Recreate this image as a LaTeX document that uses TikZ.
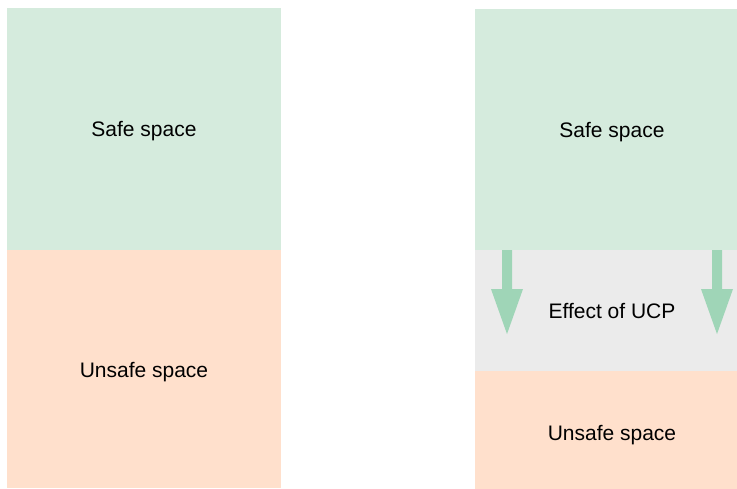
\documentclass[tikz,border=0pt]{standalone}
\usepackage{fontspec}
\setmainfont{Liberation Sans}
\definecolor{safefill}{HTML}{D5EBDD}
\definecolor{unsafefill}{HTML}{FFE0CC}
\definecolor{effectfill}{HTML}{EBEBEB}
\definecolor{arrowfill}{HTML}{9FD5B7}
\begin{document}
\begin{tikzpicture}[x=1pt,y=-1pt,
  region/.style={rectangle, draw=none, inner sep=0pt, outer sep=0pt,
    minimum width=274pt, anchor=north west, text depth=0pt,
    font=\fontsize{21}{25}\selectfont},
  pusharrow/.style={fill=arrowfill, draw=none}]
\useasboundingbox (0,0) rectangle (737,488);
\clip (0,0) rectangle (737,488);
% left column
\node[region, fill=safefill, minimum height=242pt] (safeL) at (7,8) {Safe space};
\node[region, fill=unsafefill, minimum height=238pt] (unsafeL) at (7,250) {\raisebox{-2pt}{Unsafe space}};
% right column
\node[region, fill=safefill, minimum height=241pt] (safeR) at (475,9) {Safe space};
\node[region, fill=effectfill, minimum height=121pt] (effect) at (475,250) {Effect of UCP};
\node[region, fill=unsafefill, minimum height=124pt] (unsafeR) at (475,371) {Unsafe space};
% block arrows pushing the safe boundary down
\foreach \dx in {32,242} {
  \fill[pusharrow] ([xshift=\dx pt]effect.north west)
    ++(-5,0) -- ++(10,0) -- ++(0,39) -- ++(11,0) -- ++(-16,45)
    -- ++(-16,-45) -- ++(11,0) -- cycle;
}
\end{tikzpicture}
\end{document}
